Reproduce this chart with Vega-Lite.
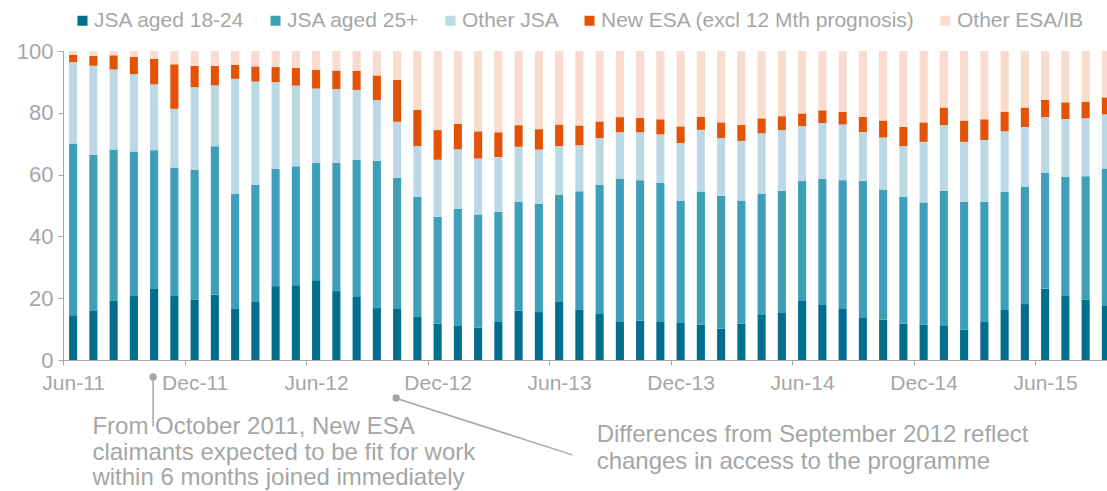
{
  "$schema": "https://vega.github.io/schema/vega-lite/v6.json",
  "width": 1053,
  "height": 309,
  "autosize": {"type": "none"},
  "padding": {"left": 63, "top": 51, "right": 0, "bottom": 131},
  "background": "white",
  "config": {"view": {"stroke": null}, "font": "Liberation Sans"},
  "layer": [
    {
      "data": {"values": [
        {"m": "Jun-11", "a": 14.5, "b": 55.6, "c": 26.3, "d": 2.4, "e": 1.2},
        {"m": "Jul-11", "a": 16.1, "b": 50.3, "c": 28.8, "d": 3.2, "e": 1.6},
        {"m": "Aug-11", "a": 19.1, "b": 49.0, "c": 25.9, "d": 4.6, "e": 1.4},
        {"m": "Sep-11", "a": 20.7, "b": 46.8, "c": 25.0, "d": 5.6, "e": 1.9},
        {"m": "Oct-11", "a": 23.2, "b": 44.7, "c": 21.3, "d": 8.3, "e": 2.5},
        {"m": "Nov-11", "a": 20.7, "b": 41.6, "c": 19.0, "d": 14.4, "e": 4.3},
        {"m": "Dec-11", "a": 19.6, "b": 42.0, "c": 26.7, "d": 6.9, "e": 4.8},
        {"m": "Jan-12", "a": 21.1, "b": 48.1, "c": 19.7, "d": 6.3, "e": 4.8},
        {"m": "Feb-12", "a": 16.7, "b": 37.0, "c": 37.3, "d": 4.5, "e": 4.5},
        {"m": "Mar-12", "a": 18.8, "b": 37.9, "c": 33.4, "d": 4.9, "e": 5.0},
        {"m": "Apr-12", "a": 23.9, "b": 37.9, "c": 28.1, "d": 4.9, "e": 5.2},
        {"m": "May-12", "a": 24.2, "b": 38.5, "c": 26.1, "d": 5.7, "e": 5.5},
        {"m": "Jun-12", "a": 25.8, "b": 38.0, "c": 24.1, "d": 6.0, "e": 6.1},
        {"m": "Jul-12", "a": 22.3, "b": 41.5, "c": 23.9, "d": 6.0, "e": 6.3},
        {"m": "Aug-12", "a": 20.4, "b": 44.3, "c": 22.7, "d": 6.2, "e": 6.4},
        {"m": "Sep-12", "a": 16.8, "b": 47.7, "c": 19.6, "d": 8.0, "e": 7.9},
        {"m": "Oct-12", "a": 16.5, "b": 42.5, "c": 18.1, "d": 13.6, "e": 9.3},
        {"m": "Nov-12", "a": 13.9, "b": 38.9, "c": 16.4, "d": 11.8, "e": 19.0},
        {"m": "Dec-12", "a": 11.7, "b": 34.6, "c": 18.5, "d": 9.6, "e": 25.6},
        {"m": "Jan-13", "a": 11.0, "b": 37.9, "c": 19.3, "d": 8.2, "e": 23.6},
        {"m": "Feb-13", "a": 10.4, "b": 36.7, "c": 18.1, "d": 8.8, "e": 26.0},
        {"m": "Mar-13", "a": 12.3, "b": 35.6, "c": 17.8, "d": 8.0, "e": 26.3},
        {"m": "Apr-13", "a": 15.9, "b": 35.4, "c": 17.7, "d": 7.0, "e": 24.0},
        {"m": "May-13", "a": 15.5, "b": 35.1, "c": 17.5, "d": 6.6, "e": 25.3},
        {"m": "Jun-13", "a": 18.8, "b": 34.7, "c": 15.7, "d": 7.0, "e": 23.8},
        {"m": "Jul-13", "a": 16.3, "b": 38.3, "c": 14.9, "d": 6.4, "e": 24.1},
        {"m": "Aug-13", "a": 14.9, "b": 41.7, "c": 15.2, "d": 5.4, "e": 22.8},
        {"m": "Sep-13", "a": 12.3, "b": 46.4, "c": 15.0, "d": 4.9, "e": 21.4},
        {"m": "Oct-13", "a": 12.7, "b": 45.5, "c": 15.5, "d": 4.6, "e": 21.7},
        {"m": "Nov-13", "a": 12.3, "b": 45.0, "c": 15.7, "d": 4.9, "e": 22.1},
        {"m": "Dec-13", "a": 12.0, "b": 39.5, "c": 18.7, "d": 5.4, "e": 24.4},
        {"m": "Jan-14", "a": 11.4, "b": 43.1, "c": 20.0, "d": 4.2, "e": 21.3},
        {"m": "Feb-14", "a": 10.1, "b": 43.0, "c": 18.7, "d": 5.1, "e": 23.1},
        {"m": "Mar-14", "a": 11.7, "b": 39.9, "c": 19.3, "d": 5.2, "e": 23.9},
        {"m": "Apr-14", "a": 14.6, "b": 39.2, "c": 19.6, "d": 4.8, "e": 21.8},
        {"m": "May-14", "a": 15.2, "b": 39.5, "c": 19.7, "d": 4.5, "e": 21.1},
        {"m": "Jun-14", "a": 19.1, "b": 38.8, "c": 17.8, "d": 4.1, "e": 20.2},
        {"m": "Jul-14", "a": 17.8, "b": 40.8, "c": 18.1, "d": 4.1, "e": 19.2},
        {"m": "Aug-14", "a": 16.5, "b": 41.7, "c": 18.0, "d": 4.1, "e": 19.7},
        {"m": "Sep-14", "a": 13.6, "b": 44.3, "c": 15.9, "d": 4.9, "e": 21.3},
        {"m": "Oct-14", "a": 13.0, "b": 42.2, "c": 16.8, "d": 5.5, "e": 22.5},
        {"m": "Nov-14", "a": 11.7, "b": 41.1, "c": 16.4, "d": 6.2, "e": 24.6},
        {"m": "Dec-14", "a": 11.4, "b": 39.6, "c": 19.6, "d": 6.3, "e": 23.1},
        {"m": "Jan-15", "a": 11.0, "b": 43.7, "c": 21.3, "d": 5.7, "e": 18.3},
        {"m": "Feb-15", "a": 9.8, "b": 41.4, "c": 19.4, "d": 6.9, "e": 22.5},
        {"m": "Mar-15", "a": 12.3, "b": 38.9, "c": 20.0, "d": 6.7, "e": 22.1},
        {"m": "Apr-15", "a": 16.2, "b": 38.2, "c": 19.6, "d": 6.4, "e": 19.6},
        {"m": "May-15", "a": 18.1, "b": 37.9, "c": 19.4, "d": 6.3, "e": 18.3},
        {"m": "Jun-15", "a": 23.1, "b": 37.4, "c": 18.1, "d": 5.6, "e": 15.8},
        {"m": "Jul-15", "a": 20.7, "b": 38.5, "c": 18.8, "d": 5.4, "e": 16.6},
        {"m": "Aug-15", "a": 19.6, "b": 39.9, "c": 18.7, "d": 5.4, "e": 16.4},
        {"m": "Sep-15", "a": 17.7, "b": 44.3, "c": 17.5, "d": 5.5, "e": 15.0}
      ]},
      "transform": [{"fold": ["a", "b", "c", "d", "e"], "as": ["k", "v"]}],
      "mark": {"type": "bar"},
      "encoding": {
        "x": {
          "field": "m", "type": "ordinal",
          "scale": {
            "domain": ["Jun-11","Jul-11","Aug-11","Sep-11","Oct-11","Nov-11","Dec-11","Jan-12","Feb-12","Mar-12","Apr-12","May-12","Jun-12","Jul-12","Aug-12","Sep-12","Oct-12","Nov-12","Dec-12","Jan-13","Feb-13","Mar-13","Apr-13","May-13","Jun-13","Jul-13","Aug-13","Sep-13","Oct-13","Nov-13","Dec-13","Jan-14","Feb-14","Mar-14","Apr-14","May-14","Jun-14","Jul-14","Aug-14","Sep-14","Oct-14","Nov-14","Dec-14","Jan-15","Feb-15","Mar-15","Apr-15","May-15","Jun-15","Jul-15","Aug-15","Sep-15"],
            "paddingInner": 0.6, "paddingOuter": 0.3
          },
          "axis": {
            "title": null,
            "values": ["Jun-11","Dec-11","Jun-12","Dec-12","Jun-13","Dec-13","Jun-14","Dec-14","Jun-15"],
            "labelAngle": 0,
            "tickOffset": -10.125,
            "labelOffset": 10.125,
            "tickSize": 5,
            "tickColor": "#a6a6a6",
            "domainColor": "#a6a6a6",
            "labelColor": "#a6a6a6",
            "labelFontSize": 21,
            "labelPadding": 7,
            "grid": false
          }
        },
        "y": {
          "field": "v", "type": "quantitative", "stack": "zero",
          "scale": {"domain": [0, 100], "nice": false},
          "axis": {
            "title": null,
            "values": [0, 20, 40, 60, 80, 100],
            "grid": false,
            "tickSize": 5,
            "tickColor": "#a6a6a6",
            "domainColor": "#a6a6a6",
            "labelColor": "#a6a6a6",
            "labelFontSize": 22,
            "labelPadding": 5
          }
        },
        "color": {
          "field": "k", "type": "nominal",
          "scale": {"domain": ["a", "b", "c", "d", "e"], "range": ["#006F8E", "#3D9FB8", "#BBD9E4", "#E35205", "#FADBCF"]},
          "legend": {
            "orient": "none", "legendX": 9, "legendY": -41,
            "direction": "horizontal", "title": null,
            "symbolType": "square", "symbolSize": 100, "symbolStrokeWidth": 0,
            "labelFontSize": 21, "labelColor": "#a6a6a6", "labelOffset": 1,
            "labelLimit": 500,
            "columnPadding": 20,
            "labelExpr": "datum.label == 'a' ? 'JSA aged 18-24' : datum.label == 'b' ? 'JSA aged 25+' : datum.label == 'c' ? 'Other JSA' : datum.label == 'd' ? 'New ESA (excl 12 Mth prognosis)' : 'Other ESA/IB'"
          }
        },
        "order": {"field": "k", "type": "ordinal", "sort": "ascending"}
      }
    },
    {
      "data": {"values": [
        {"m": "Oct-11", "m2": "Oct-11", "v": -5.5, "v2": -21.5}
      ]},
      "mark": {"type": "rule", "color": "#a6a6a6", "strokeWidth": 1.5, "xOffset": -1, "x2Offset": -1},
      "encoding": {
        "x": {"field": "m", "type": "ordinal", "title": null},
        "x2": {"field": "m2"},
        "y": {"field": "v", "type": "quantitative", "title": null},
        "y2": {"field": "v2"}
      }
    },
    {
      "data": {"values": [
        {"m": "Oct-12", "m2": "Jul-13", "v": -12.3, "v2": -30.7}
      ]},
      "mark": {"type": "rule", "color": "#a6a6a6", "strokeWidth": 1.5, "xOffset": -2, "x2Offset": -7},
      "encoding": {
        "x": {"field": "m", "type": "ordinal", "title": null},
        "x2": {"field": "m2"},
        "y": {"field": "v", "type": "quantitative", "title": null},
        "y2": {"field": "v2"}
      }
    },
    {
      "data": {"values": [
        {"m": "Oct-11", "v": -5.5},
        {"m": "Oct-12", "v": -12.3}
      ]},
      "mark": {"type": "point", "filled": true, "color": "#a6a6a6", "opacity": 1, "size": 55, "xOffset": -1},
      "encoding": {
        "x": {"field": "m", "type": "ordinal", "title": null},
        "y": {"field": "v", "type": "quantitative", "title": null}
      }
    },
    {
      "data": {"values": [
        {"m": "Jul-11", "v": -21.7, "t": "From October 2011, New ESA"},
        {"m": "Jul-11", "v": -30.1, "t": "claimants expected to be fit for work"},
        {"m": "Jul-11", "v": -38.3, "t": "within 6 months joined immediately"}
      ]},
      "mark": {"type": "text", "align": "left", "baseline": "middle", "fontSize": 24, "color": "#a6a6a6", "dx": -1},
      "encoding": {
        "x": {"field": "m", "type": "ordinal", "title": null},
        "y": {"field": "v", "type": "quantitative", "title": null},
        "text": {"field": "t"}
      }
    },
    {
      "data": {"values": [
        {"m": "Aug-13", "v": -24.3, "t": "Differences from September 2012 reflect"},
        {"m": "Aug-13", "v": -33.0, "t": "changes in access to the programme"}
      ]},
      "mark": {"type": "text", "align": "left", "baseline": "middle", "fontSize": 24, "color": "#a6a6a6", "dx": -3},
      "encoding": {
        "x": {"field": "m", "type": "ordinal", "title": null},
        "y": {"field": "v", "type": "quantitative", "title": null},
        "text": {"field": "t"}
      }
    }
  ]
}
